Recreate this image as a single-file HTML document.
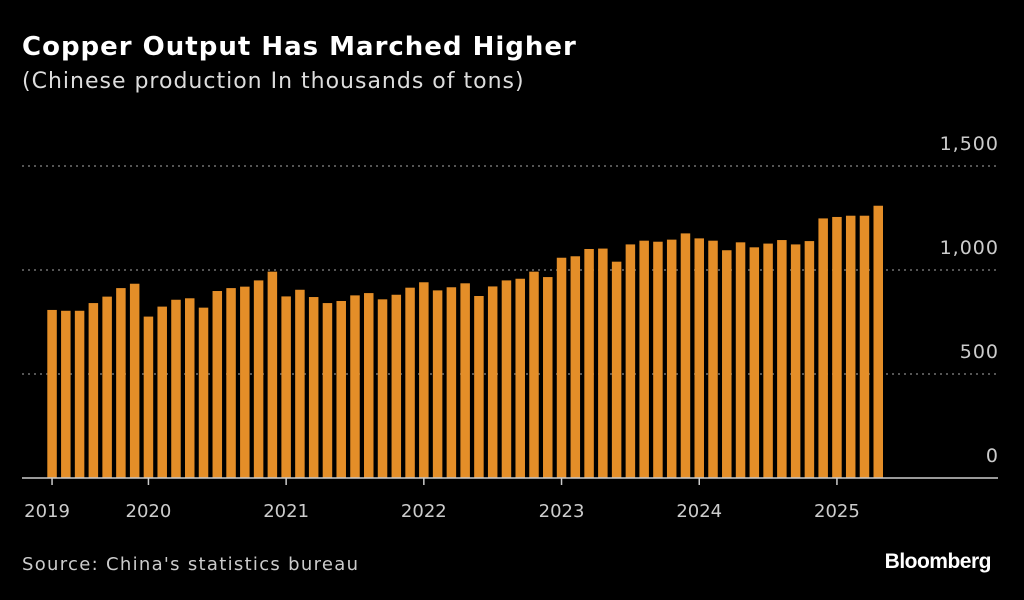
<!DOCTYPE html>
<html><head><meta charset="utf-8"><style>
body{margin:0;background:#000;width:1024px;height:600px;overflow:hidden;font-family:"DejaVu Sans",sans-serif;color:#fff}
.t{position:absolute;left:22px;top:32px;font-size:26px;font-weight:bold;letter-spacing:1px}
.s{position:absolute;left:22px;top:69px;font-size:22px;color:#ddd;letter-spacing:1px}
.src{position:absolute;left:22px;top:554px;font-size:18px;color:#ccc;letter-spacing:1.3px}
.bb{position:absolute;right:33px;top:550px;font-family:"Liberation Sans",sans-serif;font-size:21px;font-weight:bold;letter-spacing:-0.5px}
svg{position:absolute;left:0;top:0}
</style></head><body>
<div class="t">Copper Output Has Marched Higher</div>
<div class="s">(Chinese production In thousands of tons)</div>
<svg id="c" width="1024" height="600"></svg>
<div class="src">Source: China's statistics bureau</div>
<div class="bb">Bloomberg</div>
<script>
const values=[808,804,804,841,872,913,934,776,824,857,864,819,899,913,920,950,992,873,905,870,841,851,878,889,859,881,915,941,902,917,936,875,921,950,958,992,966,1059,1066,1101,1103,1040,1123,1141,1136,1146,1176,1152,1141,1095,1133,1109,1127,1144,1123,1139,1248,1255,1261,1261,1309];
const yTicks=[0,500,1000,1500];
const yTickLabels=["0","500","1,000","1,500"];
const yearLabels=["2019","2020","2021","2022","2023","2024","2025"];
const yearStartIdx=[0,7,17,27,37,47,57];
const svg=document.getElementById('c');
const NS='http://www.w3.org/2000/svg';
const y0=478,yk=104/500,x0=47.3,pitch=13.77,bw=9.5;
const Y=v=>y0-v*yk, X=i=>x0+i*pitch;
function mk(t,a){const e=document.createElementNS(NS,t);for(const k in a)e.setAttribute(k,a[k]);svg.appendChild(e);return e;}
yTicks.forEach((v,i)=>{
 if(v>0){const g=mk('line',{x1:22,x2:998,y1:Y(v),y2:Y(v),stroke:'#888','stroke-width':1.3,'stroke-dasharray':'2,4'});
 
 }
 const t=mk('text',{x:999,y:Y(v)-16,'text-anchor':'end','font-size':19,'letter-spacing':1,fill:'#ccc','font-family':'DejaVu Sans'});
 t.textContent=yTickLabels[i];
 
 
});
values.forEach((v,i)=>{
 const r=mk('rect',{x:X(i),y:Y(v),width:bw,height:v*yk,fill:'#e48e28'});
 
 
});
const ax=mk('line',{x1:22,x2:998,y1:y0,y2:y0,stroke:'#ccc','stroke-width':1.5});


yearLabels.forEach((l,j)=>{
 const cx=X(yearStartIdx[j])+bw/2;
 const tk=mk('line',{x1:cx,x2:cx,y1:y0,y2:y0+7,stroke:'#ccc','stroke-width':1.5});
 
 
 const t=mk('text',{x:j==0?cx-5:cx,y:517,'text-anchor':'middle','font-size':18,fill:'#ccc','font-family':'DejaVu Sans'});
 t.textContent=l;
 
 
});
</script>
</body></html>
